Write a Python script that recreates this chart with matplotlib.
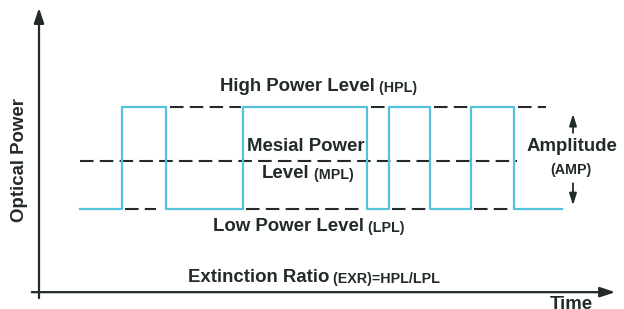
import matplotlib
matplotlib.use("Agg")
import matplotlib.pyplot as plt

# signal: transition times and levels (0 = low, 1 = high)
edges = [80, 122, 166, 243, 367, 389, 430, 471, 514, 562]
states = [0, 1, 0, 1, 0, 1, 0, 1, 0]
mpl_level = 0.47
mpl_span = [80, 517]
hpl_gaps = [(166, 243), (367, 389), (430, 471), (514, 548)]
lpl_gaps = [(125, 160), (246, 367), (392, 430), (474, 514)]

plt.rcParams["font.family"] = ["Liberation Sans", "DejaVu Sans"]
plt.rcParams["font.weight"] = "bold"

fig = plt.figure(figsize=(6.24, 3.09), dpi=100)
ax = fig.add_axes([0, 0, 1, 1])
ax.set_xlim(0, 624)
ax.set_ylim(-0.98, 2.05)
ax.axis("off")

cyan = "#55c2dc"
ink = "#222a2a"

# axes arrows
ax.annotate("", xy=(39, 2.0), xytext=(39, -0.9),
            arrowprops=dict(arrowstyle="-|>,head_length=0.9,head_width=0.3", color=ink, lw=1.6))
ax.annotate("", xy=(618, -0.815), xytext=(29, -0.815),
            arrowprops=dict(arrowstyle="-|>,head_length=0.9,head_width=0.3", color=ink, lw=1.6))

# square wave
xs, ys = [], []
for i, s in enumerate(states):
    xs += [edges[i], edges[i + 1]]
    ys += [s, s]
ax.plot(xs, ys, color=cyan, lw=1.6, zorder=3)

dash = dict(color=ink, lw=1.5, dashes=(6.5, 3))
for a, b in hpl_gaps:
    ax.plot([a + 4, b - 2], [1, 1], **dash)
for a, b in lpl_gaps:
    ax.plot([a, b - 4], [0, 0], **dash)
ax.plot(mpl_span, [mpl_level, mpl_level], **dash)

# amplitude arrows
ax.annotate("", xy=(573, 0.96), xytext=(573, 0.72),
            arrowprops=dict(arrowstyle="-|>,head_length=0.7,head_width=0.22", color=ink, lw=1.3))
ax.annotate("", xy=(573, 0.01), xytext=(573, 0.28),
            arrowprops=dict(arrowstyle="-|>,head_length=0.7,head_width=0.22", color=ink, lw=1.3))

big = 13.4
small = 10.3

def label(x, y, main, sub=None):
    t = ax.text(x, y, main, fontsize=big, color=ink, ha="left", va="center")
    if sub:
        ax.annotate(" " + sub, xycoords=t, xy=(1, 0), va="bottom",
                    fontsize=small, color=ink)

label(220, 1.2, "High Power Level", "(HPL)")
ax.text(247, 0.615, "Mesial Power", fontsize=big, color=ink, va="center")
label(262, 0.35, "Level", "(MPL)")
label(213, -0.17, "Low Power Level", "(LPL)")
t = ax.text(188, -0.67, "Extinction Ratio", fontsize=big, color=ink, va="center")
ax.annotate(" (EXR)=HPL/LPL", xycoords=t, xy=(1, 0), va="bottom", fontsize=small, color=ink)
ax.text(572, 0.61, "Amplitude", fontsize=big, color=ink, ha="center", va="center")
ax.text(571, 0.385, "(AMP)", fontsize=small, color=ink, ha="center", va="center")
ax.text(20, 0.48, "Optical Power", fontsize=big, color=ink, rotation=90, ha="center", va="center")
ax.text(571, -0.978, "Time", fontsize=big, color=ink, ha="center", va="baseline")

fig.savefig("out.png", dpi=100)
